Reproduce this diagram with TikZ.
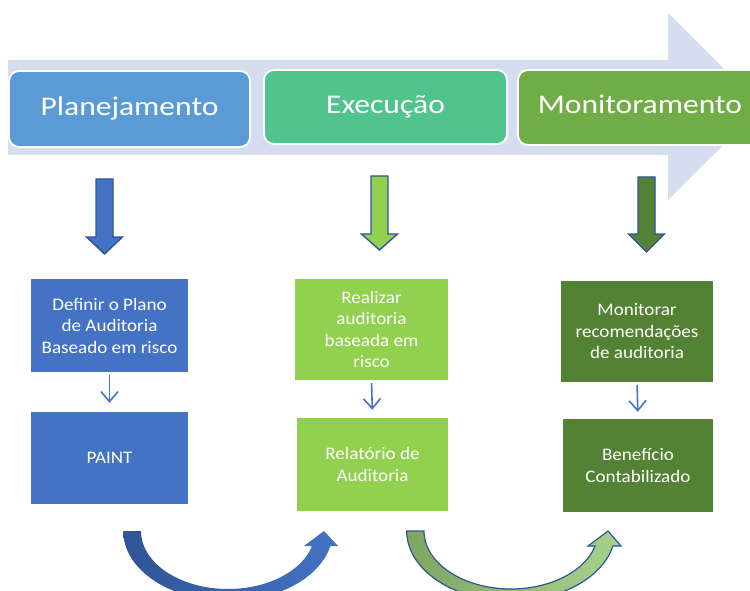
\documentclass[tikz,border=0pt]{standalone}
\usepackage{fontspec}
\setmainfont{Carlito}
\newfontfamily\titlefont{Carlito}[FakeStretch=1.17]
\newfontfamily\boxfont{Carlito}[FakeStretch=1.085]
\usetikzlibrary{arrows.meta}
\definecolor{bigarrow}{HTML}{D5DEEF}
\definecolor{planc}{HTML}{5B9BD5}
\definecolor{execc}{HTML}{50C48C}
\definecolor{monc}{HTML}{70AD47}
\definecolor{bluebox}{HTML}{4472C4}
\definecolor{lgreen}{HTML}{92D050}
\definecolor{dgreen}{HTML}{548235}
\definecolor{edgeblue}{HTML}{2F5597}
\definecolor{darkblue}{HTML}{2F5597}
\definecolor{curveleft}{HTML}{7FA661}
\definecolor{curveright}{HTML}{A9D18E}
\tikzset{
  phase/.style={rounded corners=10pt, draw=white, line width=1.8pt, text=white,
    font=\titlefont\fontsize{27}{32}\selectfont, inner sep=0pt,
    text height=17.4pt, text depth=4.4pt},
  stepbox/.style={text=white, align=center, inner sep=0pt,
    font=\boxfont\fontsize{17.6}{21.5}\selectfont},
  blockarrow/.style={draw=edgeblue, line width=1.4pt, line join=miter},
  thinarrow/.style={draw=bluebox, line width=1.6pt,
    -{Straight Barb[length=10pt,width=17pt,line width=1.6pt]}}
}
\newcommand\blockdown[6]{% cx, top, headstart, tip, fill, name
  \draw[blockarrow, fill=#5] (#1-8.5,#2) -- (#1+8.5,#2) -- (#1+8.5,#3) -- (#1+18,#3)
    -- (#1,#4) -- (#1-18,#3) -- (#1-8.5,#3) -- cycle;}
\begin{document}
\begin{tikzpicture}[x=1pt,y=-1pt]
\useasboundingbox (0,0) rectangle (750,591);
\clip (0,0) rectangle (750,591);
% big background arrow
\fill[bigarrow] (8,60) -- (668,60) -- (668,13) -- (762,106.5) -- (668,200) -- (668,155) -- (8,155) -- cycle;
% phase boxes
\node[phase, fill=planc, minimum width=241pt, minimum height=76pt] (plan) at (129.5,109) {Planejamento};
\node[phase, fill=execc, minimum width=243pt, minimum height=74pt] (exec) at (385.5,107) {Execução};
\node[phase, fill=monc, minimum width=244pt, minimum height=75pt] (mon) at (640,107.5) {Monitoramento};
% block down arrows
\blockdown{104.5}{179}{237}{254}{bluebox}{a1}
\blockdown{379.5}{176}{234}{250}{lgreen}{a2}
\blockdown{646.5}{177}{234}{252}{dgreen}{a3}
% step boxes
\node[stepbox, fill=bluebox, minimum width=157pt, minimum height=93pt] (p1) at (109.5,325.5) {Definir o Plano\\de Auditoria\\Baseado em risco};
\node[stepbox, fill=bluebox, minimum width=157pt, minimum height=92pt] (p2) at (109.5,458) {PAINT};
\node[stepbox, fill=lgreen, minimum width=153pt, minimum height=101pt] (e1) at (371.5,329.5) {Realizar\\auditoria\\baseada em\\risco};
\node[stepbox, fill=lgreen, minimum width=151pt, minimum height=93pt] (e2) at (372.5,464.5) {Relatório de\\Auditoria};
\node[stepbox, fill=dgreen, minimum width=152pt, minimum height=101pt] (m1) at (637,331.5) {Monitorar\\recomendações\\de auditoria};
\node[stepbox, fill=dgreen, minimum width=150pt, minimum height=93pt] (m2) at (638,465.5) {Benefício\\Contabilizado};
% thin arrows
\draw[thinarrow, shorten <=3pt, shorten >=9pt] (p1.south) -- (p2.north);
\draw[thinarrow, shorten <=3pt, shorten >=8pt] (e1.south) -- (e2.north);
\draw[thinarrow, shorten <=3pt, shorten >=7pt] (m1.south) -- (m2.north);
% curved arrows
\shade[left color=darkblue, right color=bluebox]
  plot[domain=180:12.4, samples=60] ({228+104.8*cos(\x)},{531+70*sin(\x)})
  -- (338,546) -- (324,531) -- (304,546)
  -- plot[domain=15:180, samples=60] ({228+87*cos(\x)},{531+58*sin(\x)}) -- cycle;
\shadedraw[left color=curveleft, right color=curveright, draw=edgeblue, line width=1.2pt]
  plot[domain=180:12.4, samples=60] ({511+104.3*cos(\x)},{531+70*sin(\x)})
  -- (621,546) -- (608,531) -- (588,546)
  -- plot[domain=15:180, samples=60] ({511+87*cos(\x)},{531+58*sin(\x)}) -- cycle;
\end{tikzpicture}
\end{document}
